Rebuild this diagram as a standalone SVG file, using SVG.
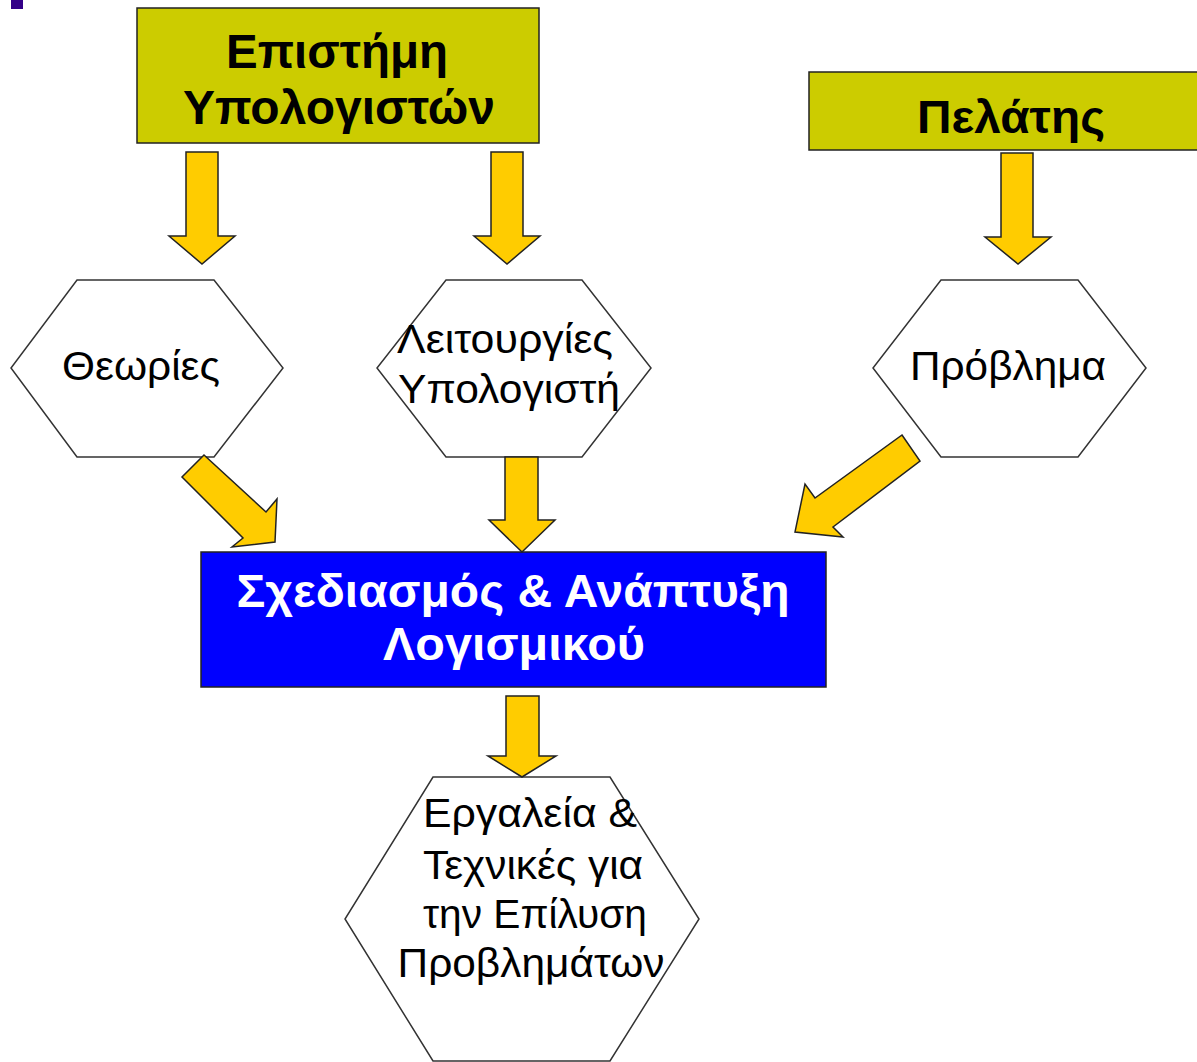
<svg xmlns="http://www.w3.org/2000/svg" width="1197" height="1062" viewBox="0 0 1197 1062">
<style>
.box{fill:#CCCC00;stroke:#222;stroke-width:1.5}
.hex{fill:#fff;stroke:#333;stroke-width:1.5}
.arr{fill:#FFCC00;stroke:#222;stroke-width:1.5;stroke-linejoin:miter}
text{font-family:"Liberation Sans",Arial,sans-serif;text-anchor:middle}
.tb{font-weight:bold;fill:#000}
.tr{fill:#000}
.tw{font-weight:bold;fill:#fff}
</style>
<rect x="11" y="0" width="12" height="9" fill="#330088"/>
<g id="cs">
<rect class="box" x="137" y="8" width="402" height="135"/>
<text class="tb" x="337" y="68" font-size="48" textLength="222" lengthAdjust="spacingAndGlyphs">Επιστήμη</text>
<text class="tb" x="339" y="124" font-size="48" textLength="312" lengthAdjust="spacingAndGlyphs">Υπολογιστών</text>
</g>
<g id="client">
<rect class="box" x="809" y="72" width="400" height="78"/>
<text class="tb" x="1011" y="133" font-size="47" textLength="188" lengthAdjust="spacingAndGlyphs">Πελάτης</text>
</g>
<g id="theories">
<polygon class="hex" points="77,280 214,280 283,368 214,457 77,457 11,368"/>
<text class="tr" x="141" y="380" font-size="40" textLength="158" lengthAdjust="spacingAndGlyphs">Θεωρίες</text>
</g>
<g id="functions">
<polygon class="hex" points="446,280 582,280 651,368 582,457 446,457 377,368"/>
<text class="tr" x="505" y="353" font-size="40" textLength="216" lengthAdjust="spacingAndGlyphs">Λειτουργίες</text>
<text class="tr" x="509" y="403" font-size="40" textLength="222" lengthAdjust="spacingAndGlyphs">Υπολογιστή</text>
</g>
<g id="problem">
<polygon class="hex" points="941,280 1078,280 1146,368 1078,457 941,457 873,368"/>
<text class="tr" x="1008" y="380" font-size="40" textLength="196" lengthAdjust="spacingAndGlyphs">Πρόβλημα</text>
</g>
<g id="design">
<rect x="201" y="552" width="625" height="135" fill="#0000FF" stroke="#222" stroke-width="1.5"/>
<text class="tw" x="513" y="607" font-size="46" textLength="553" lengthAdjust="spacingAndGlyphs">Σχεδιασμός &amp; Ανάπτυξη</text>
<text class="tw" x="514" y="660" font-size="46" textLength="262" lengthAdjust="spacingAndGlyphs">Λογισμικού</text>
</g>
<g id="tools">
<polygon class="hex" points="433,777 610,777 699,919 610,1061 433,1061 345,919"/>
<text class="tr" x="530" y="827" font-size="41" textLength="214" lengthAdjust="spacingAndGlyphs">Εργαλεία &amp;</text>
<text class="tr" x="533" y="879" font-size="41" textLength="220" lengthAdjust="spacingAndGlyphs">Τεχνικές για</text>
<text class="tr" x="535" y="928" font-size="41" textLength="224" lengthAdjust="spacingAndGlyphs">την Επίλυση</text>
<text class="tr" x="531" y="977" font-size="41" textLength="267" lengthAdjust="spacingAndGlyphs">Προβλημάτων</text>
</g>
<g id="connectors">
<polygon class="arr" points="186,152 218,152 218,236 235,236 202,264 169,236 186,236"/>
<polygon class="arr" points="491,152 523,152 523,236 540,236 507,264 474,236 491,236"/>
<polygon class="arr" points="1001,153 1033,153 1033,237 1051,237 1018,264 985,237 1001,237"/>
<polygon class="arr" points="505,457 538,457 538,520 555,520 522,552 489,520 505,520"/>
<polygon class="arr" points="506,696 539,696 539,756 556,756 522,777 488,756 506,756"/>
<polygon class="arr" points="204,455 266,512 277,499 275,542 232,547 243,538 182,477"/>
<polygon class="arr" points="902,435 920,461 833,527 843,537 795,532 805,484 815,498"/>
</g>
</svg>
